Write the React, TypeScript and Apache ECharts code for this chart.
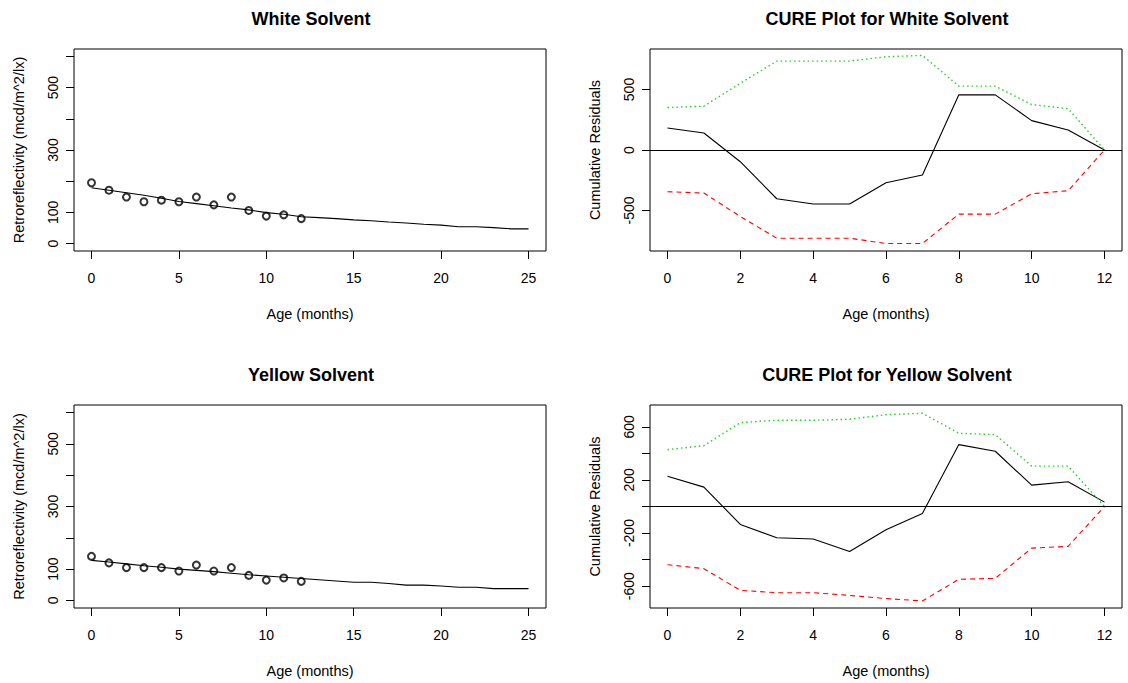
import React, { useEffect, useRef } from "react";
import * as echarts from "echarts";

// Observation months and fitted-curve months
const obsMonths = [0, 1, 2, 3, 4, 5, 6, 7, 8, 9, 10, 11, 12];
const fitMonths = [0, 1, 2, 3, 4, 5, 6, 7, 8, 9, 10, 11, 12, 13, 14, 15, 16, 17, 18, 19, 20, 21, 22, 23, 24, 25];

// Retroreflectivity measurements (mcd/m^2/lx)
const whiteObserved = [195, 171, 149, 134, 139, 134, 149, 124, 149, 106, 88, 92, 80];
const yellowObserved = [141, 120, 105, 105, 105, 94, 113, 94, 105, 80, 65, 72, 61];

// Fitted degradation curves
const whiteFitted = [179, 171, 163, 155, 145, 135, 128, 121, 114, 108, 99, 94, 86, 83, 80, 76, 73, 69, 66, 62, 59, 54, 54, 51, 47, 47];
const yellowFitted = [128, 123, 117, 111, 106, 100, 96, 92, 87, 82, 78, 74, 70, 66, 62, 58, 58, 54, 49, 49, 46, 42, 42, 38, 38, 38];

// CURE plot: cumulative residuals and their +/- 2 sigma bounds
const whiteCumRes = [182, 141, -97, -403, -447, -447, -271, -207, 456, 456, 243, 166, 0];
const whiteUpper = [351, 362, 552, 735, 735, 735, 771, 782, 528, 528, 376, 342, 0];
const whiteLower = [-345, -356, -550, -729, -729, -729, -773, -773, -530, -530, -362, -337, 0];

const yellowCumRes = [228, 146, -135, -235, -245, -338, -175, -52, 466, 416, 161, 186, 33];
const yellowUpper = [428, 458, 631, 649, 649, 657, 691, 702, 551, 541, 304, 304, 0];
const yellowLower = [-438, -468, -631, -649, -649, -669, -693, -711, -548, -541, -313, -300, 0];

// Axis ticks and labels
const ageTicks = [0, 5, 10, 15, 20, 25];
const cureAgeTicks = [0, 2, 4, 6, 8, 10, 12];
const retroTicks = [0, 100, 200, 300, 400, 500, 600];
const retroLabels = [0, 100, 300, 500];
const whiteResTicks = [-500, 0, 500];
const yellowResTicks = [-600, -400, -200, 0, 200, 400, 600];
const yellowResLabels = [-600, -200, 200, 600];

const FONT = "'Liberation Sans', Arial, Helvetica, sans-serif";

const pairs = (xs: number[], ys: number[]) => xs.map((x, i) => [x, ys[i]]);

function xAxisFor(gridIndex: number, min: number, max: number, ticks: number[]) {
  return {
    gridIndex,
    type: "value",
    min,
    max,
    axisLine: { show: false, onZero: false },
    axisTick: { show: true, length: 8, customValues: ticks, lineStyle: { color: "#000", width: 1 } },
    axisLabel: { customValues: ticks, margin: 20, fontSize: 14, color: "#000", fontFamily: FONT },
    splitLine: { show: false },
    name: "Age (months)",
    nameLocation: "middle",
    nameGap: 55,
    nameTextStyle: { fontSize: 14.5, color: "#000", fontFamily: FONT },
  };
}

function yAxisFor(gridIndex: number, min: number, max: number, ticks: number[], labels: number[], name: string) {
  return {
    gridIndex,
    type: "value",
    min,
    max,
    axisLine: { show: false, onZero: false },
    axisTick: { show: true, length: 8, customValues: ticks, lineStyle: { color: "#000", width: 1 } },
    axisLabel: { customValues: labels, rotate: 90, margin: 14, fontSize: 14, color: "#000", fontFamily: FONT },
    splitLine: { show: false },
    name,
    nameLocation: "middle",
    nameGap: 48,
    nameTextStyle: { fontSize: 14.5, color: "#000", fontFamily: FONT },
  };
}

const gridBox = { show: true, borderColor: "#000", borderWidth: 1, backgroundColor: "transparent" };

function retroSeries(idx: number, observed: number[], fitted: number[]) {
  return [
    {
      type: "line",
      xAxisIndex: idx,
      yAxisIndex: idx,
      data: pairs(fitMonths, fitted),
      showSymbol: false,
      lineStyle: { color: "#000", width: 1.1 },
    },
    {
      type: "scatter",
      xAxisIndex: idx,
      yAxisIndex: idx,
      data: pairs(obsMonths, observed),
      symbol: "emptyCircle",
      symbolSize: 7,
      itemStyle: { color: "#000", borderColor: "#000", borderWidth: 1 },
    },
  ];
}

function cureSeries(idx: number, res: number[], upper: number[], lower: number[]) {
  return [
    {
      type: "line",
      xAxisIndex: idx,
      yAxisIndex: idx,
      data: pairs(obsMonths, res),
      showSymbol: false,
      lineStyle: { color: "#000", width: 1.1 },
      markLine: {
        silent: true,
        symbol: "none",
        label: { show: false },
        lineStyle: { color: "#000", width: 1.1, type: "solid" },
        data: [{ yAxis: 0 }],
      },
    },
    {
      type: "line",
      xAxisIndex: idx,
      yAxisIndex: idx,
      data: pairs(obsMonths, upper),
      showSymbol: false,
      lineStyle: { color: "#1fd31f", width: 1.4, type: [1.5, 3] },
    },
    {
      type: "line",
      xAxisIndex: idx,
      yAxisIndex: idx,
      data: pairs(obsMonths, lower),
      showSymbol: false,
      lineStyle: { color: "#ff0000", width: 1.1, type: [5, 4] },
    },
  ];
}

const titleStyle = { fontSize: 18, fontWeight: "bold", color: "#000", fontFamily: FONT };

const option = {
  animation: false,
  backgroundColor: "#fff",
  title: [
    { text: "White Solvent", left: 306, top: 5, textAlign: "center", textStyle: titleStyle },
    { text: "CURE Plot for White Solvent", left: 882, top: 5, textAlign: "center", textStyle: titleStyle },
    { text: "Yellow Solvent", left: 306, top: 361, textAlign: "center", textStyle: titleStyle },
    { text: "CURE Plot for Yellow Solvent", left: 882, top: 361, textAlign: "center", textStyle: titleStyle },
  ],
  grid: [
    { left: 74, top: 49, width: 472, height: 202, ...gridBox },
    { left: 650, top: 49, width: 472, height: 202, ...gridBox },
    { left: 74, top: 405, width: 472, height: 203, ...gridBox },
    { left: 650, top: 405, width: 472, height: 203, ...gridBox },
  ],
  xAxis: [
    xAxisFor(0, -1, 26, ageTicks),
    xAxisFor(1, -0.48, 12.48, cureAgeTicks),
    xAxisFor(2, -1, 26, ageTicks),
    xAxisFor(3, -0.48, 12.48, cureAgeTicks),
  ],
  yAxis: [
    yAxisFor(0, -24, 624, retroTicks, retroLabels, "Retroreflectivity (mcd/m^2/lx)"),
    yAxisFor(1, -835, 835, whiteResTicks, whiteResTicks, "Cumulative Residuals"),
    yAxisFor(2, -24, 624, retroTicks, retroLabels, "Retroreflectivity (mcd/m^2/lx)"),
    yAxisFor(3, -764, 764, yellowResTicks, yellowResLabels, "Cumulative Residuals"),
  ],
  series: [
    ...retroSeries(0, whiteObserved, whiteFitted),
    ...cureSeries(1, whiteCumRes, whiteUpper, whiteLower),
    ...retroSeries(2, yellowObserved, yellowFitted),
    ...cureSeries(3, yellowCumRes, yellowUpper, yellowLower),
  ],
};

export default function App() {
  const ref = useRef<HTMLDivElement>(null);
  useEffect(() => {
    const chart = echarts.init(ref.current as HTMLDivElement, null, { renderer: "svg" });
    chart.setOption(option as any);
    return () => chart.dispose();
  }, []);
  return <div ref={ref} style={{ position: "absolute", left: 0, top: 0, width: 1128, height: 683 }} />;
}
